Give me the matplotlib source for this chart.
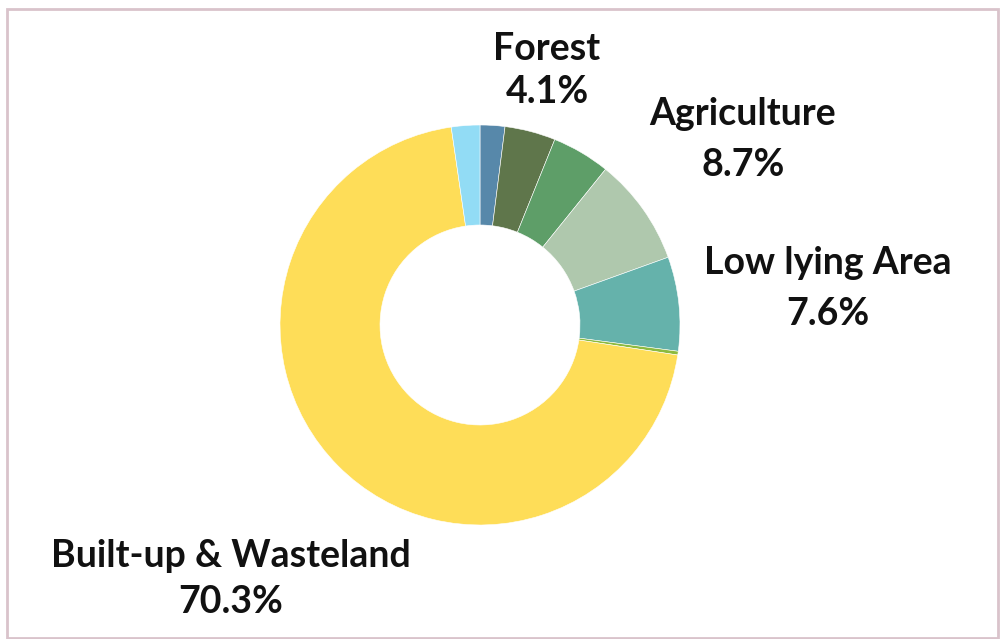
import matplotlib

matplotlib.use("Agg")
import matplotlib.pyplot as plt
from matplotlib.patches import Rectangle

# Land-use shares (%), clockwise from 12 o'clock.
shares = [2.0, 4.1, 4.7, 8.7, 7.6, 0.3, 70.3, 2.3]
colors = [
    "#5788AA", "#5F764B", "#5E9E68", "#AFC8AD",
    "#65B2AB", "#8DBA3F", "#FEDD58", "#92DCF5",
]
# Only these slices get a callout: (index into shares, label name).
labelled = [(1, "Forest"), (3, "Agriculture"), (4, "Low lying Area"), (6, "Built-up & Wasteland")]
# Callout anchor in figure pixels from top-left: (x centre, name baseline, value baseline).
label_pos = {
    1: (547, 60, 103),
    3: (743, 125, 176),
    4: (828, 274, 325),
    6: (231, 567, 613),
}

W, H = 1000, 639
fig = plt.figure(figsize=(W / 100, H / 100), dpi=100)

cx, cy, r = 480, 325, 200
ax = fig.add_axes([(cx - r) / W, (H - cy - r) / H, 2 * r / W, 2 * r / H])
ax.pie(
    shares,
    colors=colors,
    startangle=90,
    counterclock=False,
    radius=1.0,
    wedgeprops={"width": 0.5, "linewidth": 0.4, "edgecolor": "white"},
)
ax.set_xlim(-1, 1)
ax.set_ylim(-1, 1)
ax.set_aspect("equal")
ax.axis("off")

text_style = dict(ha="center", va="baseline", fontsize=27, fontweight="bold",
                  family="Lato", color="#111111")
for idx, name in labelled:
    px, y_name, y_val = label_pos[idx]
    fig.text(px / W, 1 - y_name / H, name, **text_style)
    fig.text(px / W, 1 - y_val / H, f"{shares[idx]:.1f}%", **text_style)

# Thin frame round the chart area.
fig.patches.append(
    Rectangle((7 / W, 1 - 638 / H), 991 / W, 629 / H, transform=fig.transFigure,
              fill=False, edgecolor="#D9C3CB", linewidth=2)
)

fig.savefig("out.png", dpi=100)
